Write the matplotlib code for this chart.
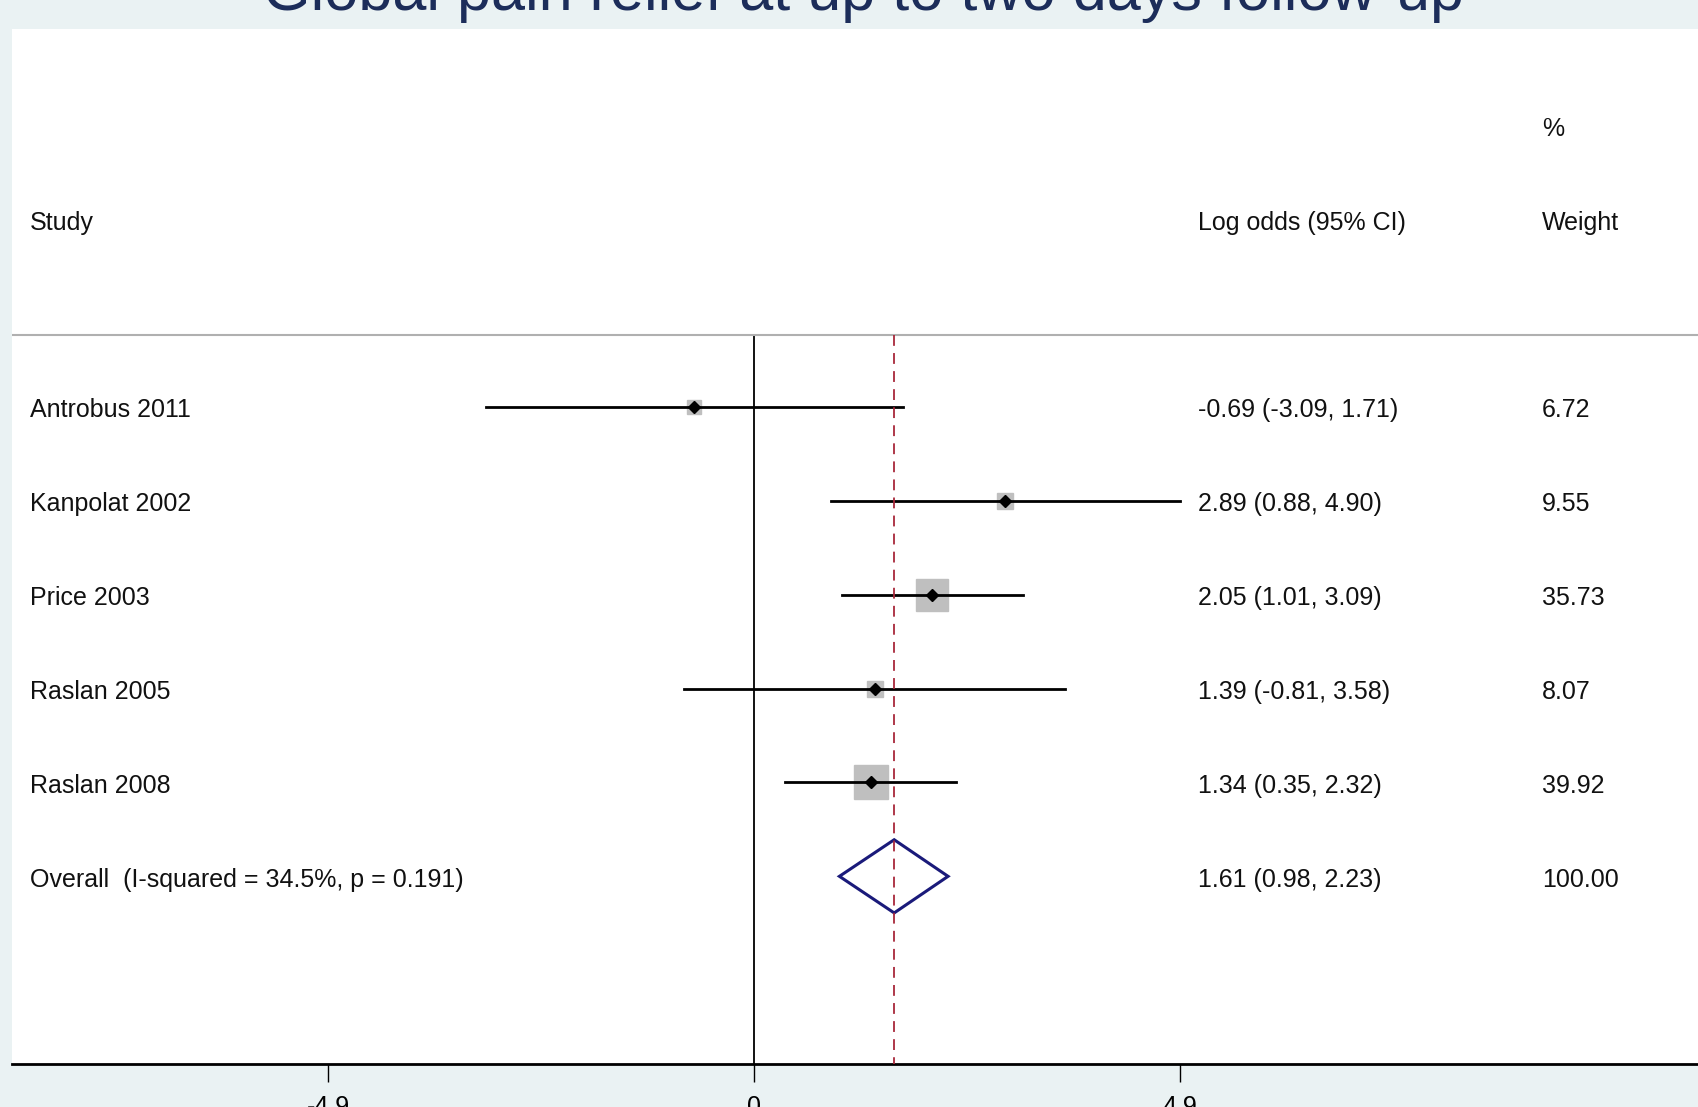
import numpy as np
import matplotlib
matplotlib.use('Agg')
import matplotlib.pyplot as plt

plt.rcParams['font.family'] = ['Liberation Sans', 'DejaVu Sans']

# study data
studies = ['Antrobus 2011', 'Kanpolat 2002', 'Price 2003', 'Raslan 2005', 'Raslan 2008']
est = [-0.69, 2.89, 2.05, 1.39, 1.34]
lo = [-3.09, 0.88, 1.01, -0.81, 0.35]
hi = [1.71, 4.90, 3.09, 3.58, 2.32]
weights = [6.72, 9.55, 35.73, 8.07, 39.92]

overall_label = 'Overall  (I-squared = 34.5%, p = 0.191)'
overall_est = 1.61
overall_lo = 0.98
overall_hi = 2.23
overall_weight = 100.00

xticks = [-4.9, 0, 4.9]
title = 'Global pain relief at up to two days follow-up'

bg = '#eaf2f3'
navy = '#1c2d5a'
txt = '#111111'

fig = plt.figure(figsize=(16.99, 11.07), dpi=100, facecolor=bg)
ax = fig.add_axes([12 / 1699, 43 / 1107, 1 - 12 / 1699, (1064 - 29) / 1107])
ax.set_facecolor('white')
ax.set_xlim(-8.54, 10.87)
ax.set_ylim(8.0, -3.03)

fs = 18
dy = 0.035  # small nudge so text sits like the original
rows = np.arange(1, len(studies) + 1)
sep = 0.233

# header
ax.text(-8.33, -1 + dy, 'Study', fontsize=fs, va='center', color=txt)
ax.text(5.11, -1 + dy, 'Log odds (95% CI)', fontsize=fs, va='center', color=txt)
ax.text(9.06, -2 + dy, '%', fontsize=fs, va='center', color=txt)
ax.text(9.06, -1 + dy, 'Weight', fontsize=fs, va='center', color=txt)
ax.plot([-8.54, 10.87], [sep, sep], color='#b0b0b0', lw=1.5)

# reference lines
ax.plot([0, 0], [sep, 8.0], color='black', lw=1.3, zorder=1)
ax.plot([overall_est, overall_est], [sep, 8.0], color='#a8283a', lw=1.3,
        dashes=(6, 4), zorder=4)

# studies
for i, r in enumerate(rows):
    ax.plot(est[i], r, marker='s', markersize=3.96 * np.sqrt(weights[i]),
            color='#bfbfbf', mec='#bfbfbf', zorder=2)
    ax.plot([lo[i], hi[i]], [r, r], color='black', lw=2, zorder=3)
    ax.plot(est[i], r, marker='D', markersize=6.5, color='black', zorder=5)
    ax.text(-8.33, r + dy, studies[i], fontsize=fs, va='center', color=txt)
    ax.text(5.11, r + dy, '%.2f (%.2f, %.2f)' % (est[i], lo[i], hi[i]),
            fontsize=fs, va='center', color=txt)
    ax.text(9.06, r + dy, '%.2f' % weights[i], fontsize=fs, va='center', color=txt)

# overall diamond
ro = len(studies) + 1
h = 0.39
ax.fill([overall_lo, overall_est, overall_hi, overall_est, overall_lo],
        [ro, ro - h, ro, ro + h, ro], facecolor='none', edgecolor='#1a1a7a',
        lw=2.2, zorder=3)
ax.text(-8.33, ro + dy, overall_label, fontsize=fs, va='center', color=txt)
ax.text(5.11, ro + dy, '%.2f (%.2f, %.2f)' % (overall_est, overall_lo, overall_hi),
        fontsize=fs, va='center', color=txt)
ax.text(9.06, ro + dy, '%.2f' % overall_weight, fontsize=fs, va='center', color=txt)

# axes styling
for s in ['top', 'left', 'right']:
    ax.spines[s].set_visible(False)
ax.spines['bottom'].set_linewidth(2)
ax.set_yticks([])
ax.set_xticks(xticks)
ax.set_xticklabels(['-4.9', '0', '4.9'])
ax.tick_params(axis='x', length=13, width=1, pad=9, labelsize=fs)

fig.text(864 / 1699, 1 - 10 / 1107, title, fontsize=44, color=navy,
         ha='center', va='baseline')

plt.savefig('out.png', dpi=100, facecolor=bg)
